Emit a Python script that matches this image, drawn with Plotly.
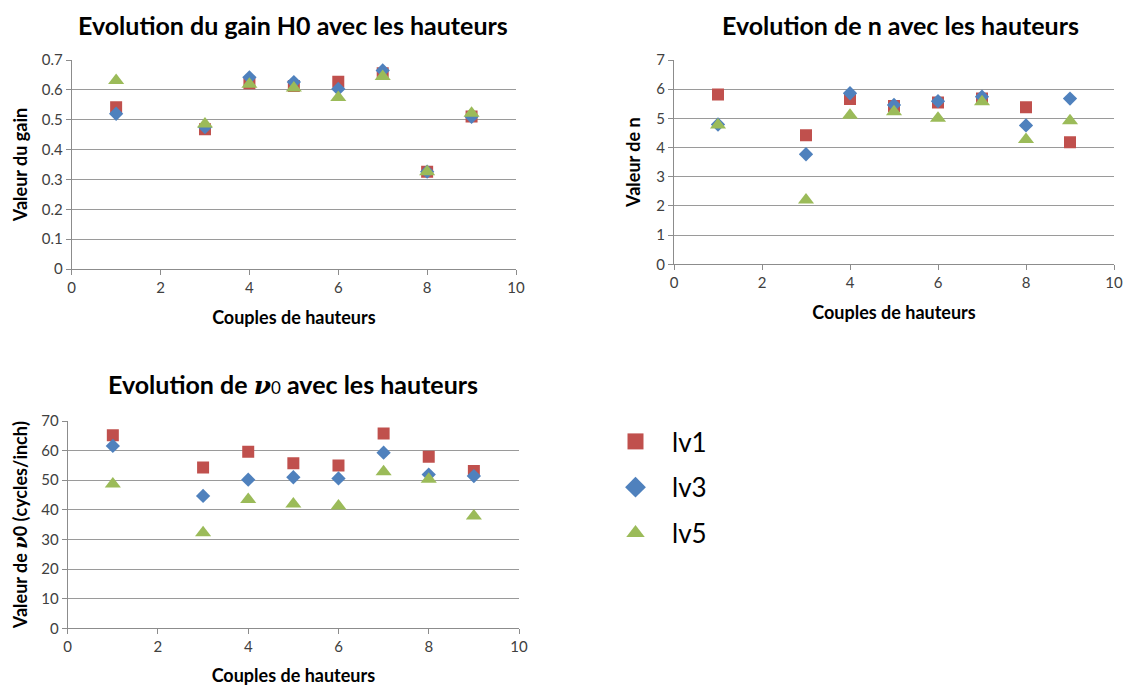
import plotly.graph_objects as go

W, H = 1128, 686

x_vals = [1, 3, 4, 5, 6, 7, 8, 9]
series_names = ["lv1", "lv3", "lv5"]

gain_lv1 = [0.542, 0.468, 0.622, 0.613, 0.627, 0.656, 0.326, 0.511]
gain_lv3 = [0.520, 0.475, 0.642, 0.626, 0.603, 0.665, 0.326, 0.510]
gain_lv5 = [0.631, 0.486, 0.619, 0.606, 0.574, 0.645, 0.326, 0.522]

n_lv1 = [5.82, 4.42, 5.66, 5.42, 5.54, 5.68, 5.38, 4.18]
n_lv3 = [4.79, 3.77, 5.86, 5.46, 5.59, 5.74, 4.76, 5.68]
n_lv5 = [4.77, 2.20, 5.11, 5.23, 5.00, 5.57, 4.28, 4.92]

nu_lv1 = [65.2, 54.3, 59.6, 55.7, 55.0, 65.8, 57.9, 53.1]
nu_lv3 = [61.6, 44.7, 50.2, 51.0, 50.6, 59.3, 51.9, 51.4]
nu_lv5 = [48.7, 32.3, 43.5, 42.0, 41.3, 52.9, 50.3, 37.9]

colors = {"lv1": "#C0504D", "lv3": "#4F81BD", "lv5": "#9BBB59"}
symbols = {"lv1": "square", "lv3": "diamond", "lv5": "triangle-up"}
sizes = {"lv1": 12, "lv3": 11, "lv5": 14}

FONT = "Lato, 'Open Sans', sans-serif"
NU = "<span style=\"font-family:'DejaVu Serif';font-style:italic\">ν</span>"

fig = go.Figure()

charts = [
    ("x", "y", [gain_lv1, gain_lv3, gain_lv5]),
    ("x2", "y2", [n_lv1, n_lv3, n_lv5]),
    ("x3", "y3", [nu_lv1, nu_lv3, nu_lv5]),
]
for ci, (xa, ya, data) in enumerate(charts):
    for name, vals in zip(series_names, data):
        fig.add_trace(go.Scatter(
            x=x_vals, y=vals, mode="markers", name=name,
            legendgroup=name, showlegend=False,
            marker=dict(symbol=symbols[name], color=colors[name], size=sizes[name], line=dict(width=0)),
            xaxis=xa, yaxis=ya,
        ))

# legend entries (larger symbols, no data)
for name in series_names:
    fig.add_trace(go.Scatter(
        x=[None], y=[None], mode="markers", name=name, legendgroup=name, showlegend=True,
        marker=dict(symbol=symbols[name], color=colors[name], size=20, line=dict(width=0)),
        xaxis="x", yaxis="y",
    ))

def px_x(a, b):
    return [a / W, b / W]

def px_y(top, bottom):
    return [1 - bottom / H, 1 - top / H]

grid = "#9a9a9a"
axis_common = dict(
    showline=True, linecolor="#8c8c8c", linewidth=1,
    ticks="outside", ticklen=5, tickcolor="#8c8c8c",
    tickfont=dict(family=FONT, size=15, color="#404040"),
    zeroline=False, automargin=False,
)
TFONT = dict(family=FONT, size=18, color="#000", weight="bold")
xcommon = dict(axis_common, range=[0, 10], dtick=2, showgrid=False,
               title=dict(text="Couples de hauteurs", font=TFONT, standoff=16))

fig.update_layout(
    width=W, height=H,
    margin=dict(l=0, r=0, t=0, b=0, autoexpand=False),
    paper_bgcolor="white", plot_bgcolor="white",
    font=dict(family=FONT),
    xaxis=dict(xcommon, domain=px_x(71.7, 516), anchor="y"),
    yaxis=dict(axis_common, domain=px_y(60, 269), anchor="x", range=[0, 0.7], dtick=0.1,
               showgrid=True, gridcolor=grid,
               title=dict(text="Valeur du gain", font=TFONT, standoff=9)),
    xaxis2=dict(xcommon, domain=px_x(674, 1114), anchor="y2"),
    yaxis2=dict(axis_common, domain=px_y(60, 264.3), anchor="x2", range=[0, 7], dtick=1,
                showgrid=True, gridcolor=grid,
                title=dict(text="Valeur de n", font=TFONT, standoff=10)),
    xaxis3=dict(xcommon, domain=px_x(67.7, 519), anchor="y3"),
    yaxis3=dict(axis_common, domain=px_y(421, 628.3), anchor="x3", range=[0, 70], dtick=10,
                showgrid=True, gridcolor=grid,
                title=dict(text="Valeur de " + NU + "0 (cycles/inch)", font=TFONT, standoff=8)),
    legend=dict(x=599 / W, y=1 - 418 / H, xanchor="left", yanchor="top",
                font=dict(family=FONT, size=26, color="#000"),
                bgcolor="rgba(0,0,0,0)", tracegroupgap=9, itemwidth=63),
)

title_font = dict(family=FONT, size=25, color="#000", weight="bold")
for txt, cx, cy in [
    ("Evolution du gain H0 avec les hauteurs", 293, 25),
    ("Evolution de n avec les hauteurs", 900, 25),
    ("Evolution de " + NU + "<span style='font-size:17px;font-weight:normal'>0</span> avec les hauteurs", 293, 385),
]:
    fig.add_annotation(text=txt, x=cx / W, y=1 - cy / H, xref="paper", yref="paper",
                       xanchor="center", yanchor="middle", showarrow=False, font=title_font)

fig.write_html("out.html", config={"displayModeBar": False},
               post_script="document.body.style.margin='0';document.body.style.overflow='hidden';")
